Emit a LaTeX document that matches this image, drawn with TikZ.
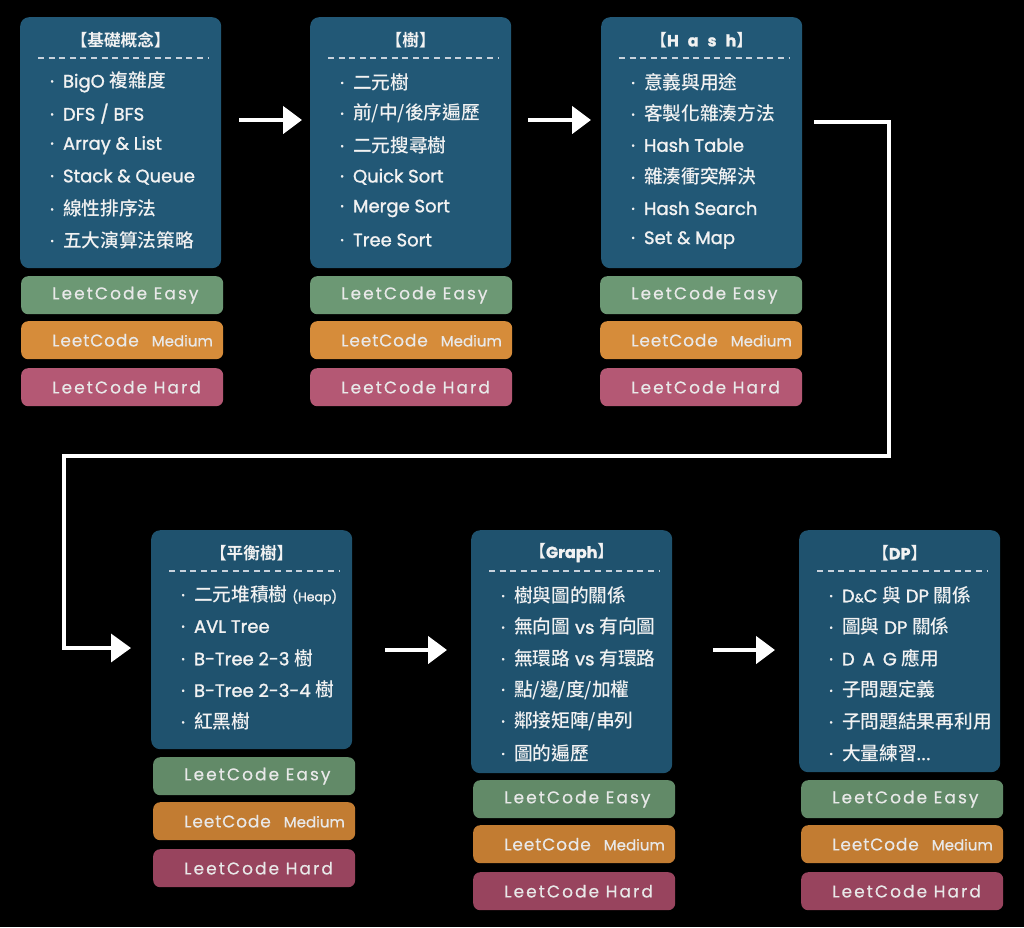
\documentclass[tikz,border=0pt]{standalone}
\usepackage{fontspec}
\setmainfont{Poppins}[FakeBold=1.3]
\newfontfamily\cjfont{Noto Sans CJK TC}[Scale=1.04, UprightFont=* Medium, BoldFont=* Bold]
\newfontfamily\barfont{Poppins}[LetterSpace=12, FakeBold=0.5]
\newfontfamily\medfont{Poppins}[LetterSpace=5, FakeBold=0.5]
\newcommand\cj[1]{{\cjfont #1}}
\usetikzlibrary{arrows.meta}
\definecolor{bluetop}{RGB}{34,88,118}
\definecolor{bluebot}{RGB}{31,82,110}
\definecolor{easytop}{RGB}{108,152,116}
\definecolor{medtop}{RGB}{214,140,58}
\definecolor{hardtop}{RGB}{180,88,116}
\definecolor{easybot}{RGB}{98,138,104}
\definecolor{medbot}{RGB}{194,124,50}
\definecolor{hardbot}{RGB}{152,68,94}
\definecolor{dashc}{RGB}{200,210,220}
\definecolor{itemc}{RGB}{242,242,242}
\definecolor{barc}{RGB}{232,232,232}
\tikzset{
  topicbox/.style={rectangle, rounded corners=9pt, minimum width=201pt, inner sep=0pt},
  titletext/.style={font=\bfseries\fontsize{16}{18}\selectfont, text=itemc, inner sep=0pt},
  itemtext/.style={font=\fontsize{18}{20}\selectfont, text=itemc, anchor=west, inner sep=0pt},
  dashline/.style={draw=dashc, line width=1.3pt, dash pattern=on 6pt off 4.6pt},
  barbox/.style={rectangle, rounded corners=7pt, minimum width=202pt, minimum height=38pt, inner sep=0pt, anchor=north west},
  bartext/.style={font=\barfont\fontsize{17}{20}\selectfont, anchor=west, inner sep=0pt},
  flowarrow/.style={draw=white, line width=4.5pt, -{Triangle[length=19pt,width=27pt]}},
  conn/.style={draw=white, line width=3.6pt, line join=miter, -{Triangle[length=20pt,width=28pt]}}
}
\newcommand\topic[6]{%
  \node[topicbox, fill=#6, minimum height=#4, anchor=north west] (#1) at (#2,#3) {};
  \node[titletext] (#1-t) at ([yshift=-23pt]#1.north) {#5};
  \draw[dashline] ([xshift=18pt,yshift=-41pt]#1.north west) -- ([xshift=-13pt,yshift=-41pt]#1.north east);
}
\newcommand\items[2]{%
  \foreach \txt [count=\i] in {#2} {
    \node[itemtext] (#1-\i) at ([xshift=30pt, yshift={-65pt-31.6pt*(\i-1)}]#1.north west) {·\hspace{9pt}\txt};
  }
}
\newcommand\bars[6]{% name, x, y, easy, med, hard colour
  \node[barbox, fill=#4] (#1-e) at (#2,#3) {};
  \node[barbox, fill=#5] (#1-m) at (#2,#3+45) {};
  \node[barbox, fill=#6] (#1-h) at (#2,#3+92) {};
  \node[bartext, text=barc] (#1-et) at ([xshift=31pt]#1-e.west) {LeetCode Easy};
  \node[bartext, text=barc] (#1-mt) at ([xshift=31pt]#1-m.west) {\medfont LeetCode\hspace{13pt}{\fontsize{15}{18}\selectfont\addfontfeatures{LetterSpace=0}Medium}};
  \node[bartext, text=barc] (#1-ht) at ([xshift=31pt]#1-h.west) {LeetCode Hard};
}
\begin{document}
\begin{tikzpicture}[x=1pt,y=-1pt]
\useasboundingbox[fill=black] (0,0) rectangle (1024,927);
% top row
\topic{b1}{20}{17}{251}{\cj{【基礎概念】}}{bluetop}
\items{b1}{{BigO \cj{複雜度}},{DFS / BFS},{Array \& List},{Stack \& Queue},{\cj{線性排序法}},{\cj{五大演算法策略}}}
\bars{r1}{21}{276}{easytop}{medtop}{hardtop}
\topic{b2}{310}{17}{251}{\cj{【樹】}}{bluetop}
\items{b2}{{\cj{二元樹}},{\cj{前/中/後序遍歷}},{\cj{二元搜尋樹}},{Quick Sort},{Merge Sort},{Tree Sort}}
\bars{r2}{310}{276}{easytop}{medtop}{hardtop}
\topic{b3}{601}{17}{251}{\cj{【}H\hspace{9pt}a\hspace{9pt}s\hspace{9pt}h\cj{】}}{bluetop}
\items{b3}{{\cj{意義與用途}},{\cj{客製化雜湊方法}},{Hash Table},{\cj{雜湊衝突解決}},{Hash Search},{Set \& Map}}
\bars{r3}{600}{276}{easytop}{medtop}{hardtop}
% bottom row
\topic{b4}{151}{530}{219}{\cj{【平衡樹】}}{bluebot}
\items{b4}{{\cj{二元堆積樹} {\fontsize{12.5}{15}\selectfont(Heap)}},{AVL Tree},{B-Tree 2-3 \cj{樹}},{B-Tree 2-3-4 \cj{樹}},{\cj{紅黑樹}}}
\bars{r4}{153}{757}{easybot}{medbot}{hardbot}
\topic{b5}{471}{530}{243}{\cj{【}Graph\cj{】}}{bluebot}
\items{b5}{{\cj{樹與圖的關係}},{\cj{無向圖} vs \cj{有向圖}},{\cj{無環路} vs \cj{有環路}},{\cj{點/邊/度/加權}},{\cj{鄰接矩陣/串列}},{\cj{圖的遍歷}}}
\bars{r5}{473}{780}{easybot}{medbot}{hardbot}
\topic{b6}{799}{530}{242}{\cj{【}DP\cj{】}}{bluebot}
\items{b6}{{D{\fontsize{12}{15}\selectfont\&}C \cj{與} DP \cj{關係}},{\cj{圖與} DP \cj{關係}},{D\hspace{8pt}A\hspace{8pt}G \cj{應用}},{\cj{子問題定義}},{\cj{子問題結果再利用}},{\cj{大量練習}.\kern1pt.\kern1pt.}}
\bars{r6}{801}{780}{easybot}{medbot}{hardbot}
% arrows
\coordinate (a1s) at (239,120); \coordinate (a1e) at (302,120);
\coordinate (a2s) at (528,120); \coordinate (a2e) at (591,120);
\coordinate (a4s) at (385,650); \coordinate (a4e) at (447,650);
\coordinate (a5s) at (713,650); \coordinate (a5e) at (775,650);
\draw[flowarrow] (a1s) -- (a1e);
\draw[flowarrow] (a2s) -- (a2e);
\draw[flowarrow] (a4s) -- (a4e);
\draw[flowarrow] (a5s) -- (a5e);
\coordinate (c0) at (814,122);
\coordinate (c1) at (889,122);
\coordinate (c2) at (889,456);
\coordinate (c3) at (64,456);
\coordinate (c4) at (64,648);
\coordinate (c5) at (131,648);
\draw[conn] (c0) -- (c1) -- (c2) -- (c3) -- (c4) -- (c5);
\end{tikzpicture}
\end{document}
